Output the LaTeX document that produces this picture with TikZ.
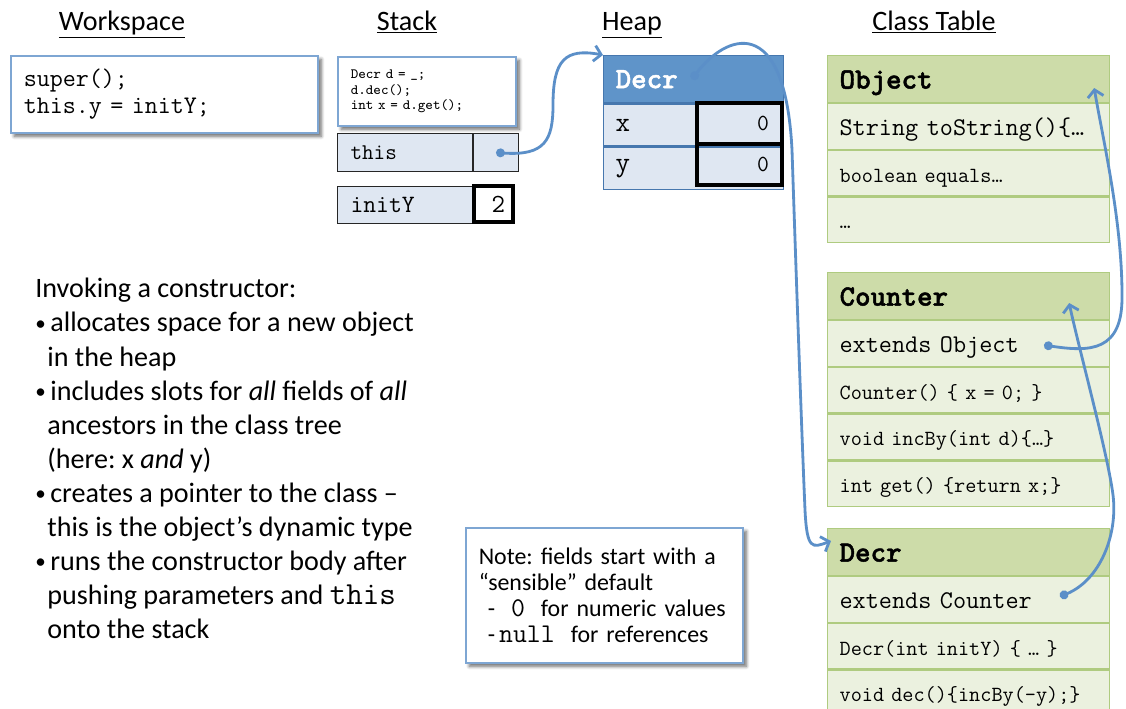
\documentclass[tikz,border=0pt]{standalone}
\usepackage{fontspec}
\setmainfont{Carlito}
\newfontfamily\hdrtt[FakeBold=1.6]{lmmonolt10-bold.otf}
\usepackage{tikz}
\usetikzlibrary{positioning,calc,arrows.meta,shadows.blur}

\definecolor{ptrblue}{HTML}{5B8FC8}
\definecolor{boxblue}{HTML}{7EA6D3}
\definecolor{cellblue}{HTML}{DFE7F2}
\definecolor{heapblue}{HTML}{5F94C9}
\definecolor{heapline}{HTML}{4677AE}
\definecolor{clshead}{HTML}{CDDCA9}
\definecolor{clsfill}{HTML}{EBF1DF}
\definecolor{clsline}{HTML}{AFCB80}

\newcommand{\bul}{\makebox[0.3cm][l]{\raisebox{1pt}{\fontsize{12}{12}\selectfont •}}}

\begin{document}
\frenchspacing
\begin{tikzpicture}[x=0.02cm, y=-0.02cm,
  title/.style={anchor=base, font=\fontsize{16}{19}\selectfont},
  codebox/.style={draw=boxblue, line width=0.9pt, fill=white, anchor=north west,
                  align=left, inner xsep=0.26cm,
                  blur shadow={shadow xshift=0.07cm, shadow yshift=-0.07cm,
                               shadow blur steps=6, shadow opacity=60}},
  slotname/.style={draw=black!85, fill=cellblue, line width=0.6pt, anchor=north west,
                   minimum width=2.7cm, text width=2.18cm, inner xsep=0.26cm, align=left},
  slotval/.style={draw=black!85, fill=cellblue, line width=0.6pt, minimum width=0.9cm},
  valbox/.style={draw=black, line width=2.2pt, inner xsep=0.16cm, align=right,
                 font=\ttfamily\fontsize{14.9}{17}\selectfont},
  heaphdr/.style={draw=heapline, fill=heapblue, line width=0.8pt, anchor=north west,
                  minimum width=3.6cm, minimum height=0.94cm, text width=3.12cm,
                  inner xsep=0.24cm, align=left, text=white,
                  font=\hdrtt\fontsize{16.8}{19}\selectfont},
  heaprow/.style={draw=heapline, fill=cellblue, line width=0.8pt,
                  minimum width=3.6cm, minimum height=0.84cm, text width=3.12cm,
                  inner xsep=0.24cm, align=left, font=\ttfamily\fontsize{16}{18}\selectfont},
  clshdr/.style={draw=clsline, fill=clshead, line width=0.7pt, anchor=north west,
                 minimum width=5.64cm, minimum height=0.94cm, text width=5.16cm,
                 inner xsep=0.24cm, align=left, text height=10.8pt, text depth=0pt,
                 font=\hdrtt\fontsize{16.8}{19}\selectfont},
  clsbig/.style={draw=clsline, fill=clsfill, line width=0.7pt,
                 minimum width=5.64cm, minimum height=0.91cm, text width=5.16cm,
                 inner xsep=0.24cm, align=left, text height=10pt, text depth=0pt,
                 font=\ttfamily\fontsize{14.5}{17}\selectfont},
  clssmall/.style={clsbig, font=\ttfamily\fontsize{12.3}{14}\selectfont},
  ptr/.style={draw=ptrblue, line width=1.6pt, line cap=round,
              arrows={Circle[length=5pt]-Straight Barb[length=4pt, width=9pt]}}
]
\useasboundingbox (0,0) rectangle (1126,708);

% ===== Titles =====
\node[title] (wstitle) at (122,30) {\underline{Workspace}};
\node[title] (sttitle) at (407,30) {\underline{Stack}};
\node[title] (hptitle) at (632,30) {\underline{Heap}};
\node[title] (cttitle) at (934,30) {\underline{Class Table}};

% ===== Workspace =====
\node[codebox, minimum width=6.14cm, minimum height=1.54cm, text width=5.62cm,
      font=\ttfamily\fontsize{14.4}{15.3}\selectfont] (ws) at (10,55)
  {super();\\this.y = initY;};

% ===== Stack =====
\node[codebox, minimum width=3.56cm, minimum height=1.38cm, text width=3.04cm,
      font=\ttfamily\fontsize{8.1}{8.8}\selectfont] (stcode) at (337,56)
  {Decr d = \_;\\d.dec();\\int x = d.get();};
\node[slotname, minimum height=0.76cm, font=\ttfamily\fontsize{12.8}{14}\selectfont]
  (thisn) at (337,133) {this};
\node[slotval, minimum height=0.76cm, right=0pt of thisn] (thisv) {};
\node[slotname, minimum height=0.74cm, font=\ttfamily\fontsize{14.2}{16}\selectfont]
  (inityn) at (337,186) {initY};
\node[valbox, minimum width=0.78cm, minimum height=0.72cm, text width=0.46cm]
  (inityv) at (493.5,204) {2};

% ===== Heap =====
\node[heaphdr] (hhdr) at (603,55) {Decr};
\node[heaprow, below=0pt of hhdr] (hx) {x};
\node[heaprow, below=0pt of hx] (hy) {y};
\node[valbox, minimum width=1.7cm, minimum height=0.82cm, text width=1.18cm,
      inner xsep=0.26cm, font=\ttfamily\fontsize{13.1}{15}\selectfont]
  (hxv) at (739.5,123.5) {0};
\node[valbox, minimum width=1.7cm, minimum height=0.82cm, text width=1.18cm,
      inner xsep=0.26cm, font=\ttfamily\fontsize{13.1}{15}\selectfont]
  (hyv) at (739.5,164.5) {0};
\coordinate (hdot) at ($(hhdr.west)+(89,0)$);

% ===== Class Table =====
\node[clshdr] (objh) at (827,55) {Object};
\node[clsbig, below=0pt of objh] (obj1) {String toString()\{…};
\node[clssmall, below=0pt of obj1] (obj2) {boolean equals…};
\node[clssmall, below=0pt of obj2] (obj3) {…};

\node[clshdr] (cnth) at (827,272) {Counter};
\node[clsbig, below=0pt of cnth] (cnt1) {extends Object};
\node[clssmall, below=0pt of cnt1] (cnt2) {Counter() \{ x = 0; \}};
\node[clssmall, below=0pt of cnt2] (cnt3) {void incBy(int d)\{…\}};
\node[clssmall, below=0pt of cnt3] (cnt4) {int get() \{return x;\}};
\coordinate (cntdot) at ($(cnt1.west)+(217,1.5)$);

\node[clshdr] (dech) at (827,528) {Decr};
\node[clsbig, below=0pt of dech] (dec1) {extends Counter};
\node[clssmall, below=0pt of dec1] (dec2) {Decr(int initY) \{ … \}};
\node[clssmall, below=0pt of dec2] (dec3) {void dec()\{incBy(-y);\}};
\coordinate (decdot) at ($(dec1.west)+(233,-3)$);

% ===== Pointers =====
\draw[ptr] (thisv.center) .. controls (545,156) and (553,140) .. (553,105)
  .. controls (553,60) and (565,48) .. (hhdr.north west);
\draw[ptr] (hdot) .. controls (725,35) and (785,10) .. (792,150)
  .. controls (797,300) and (802,440) .. (805,510)
  .. controls (807,550) and (812,548) .. ($(dech.north west)+(4,13)$);
\draw[ptr] (cntdot) .. controls (1090,352) and (1123,352) .. (1122,295)
  .. controls (1122,220) and (1103,140) .. ($(objh.north east)+(-16,33)$);
\draw[ptr] (decdot) .. controls (1100,580) and (1118,535) .. (1113,495)
  .. controls (1108,455) and (1078,345) .. ($(cnth.north east)+(-41,31)$);

% ===== Explanation =====
\node[anchor=north west, inner sep=0pt, align=left,
      font=\fontsize{16}{19.4}\selectfont] (invoke) at (35,278)
  {Invoking a constructor:\\
   \bul allocates space for a new object\\
   \hspace*{0.24cm}in the heap\\
   \bul includes slots for \textit{all} fields of \textit{all}\\
   \hspace*{0.24cm}ancestors in the class tree\\
   \hspace*{0.24cm}(here: x \textit{and} y)\\
   \bul creates a pointer to the class –\\
   \hspace*{0.24cm}this is the object’s dynamic type\\
   \bul runs the constructor body after\\
   \hspace*{0.24cm}pushing parameters and {\ttfamily\fontsize{18.3}{19.4}\selectfont this}\\
   \hspace*{0.24cm}onto the stack};

% ===== Note =====
\node[codebox, minimum width=5.54cm, minimum height=2.7cm, text width=5.02cm,
      font=\fontsize{13.6}{14.7}\selectfont] (note) at (465,527)
  {Note: fields start with a\\
   “sensible” default\\
   \hspace*{0.18cm}-\ \ {\ttfamily\fontsize{15.4}{14.7}\selectfont 0}\ \ for numeric values\\
   \hspace*{0.18cm}-\,{\ttfamily\fontsize{15.4}{14.7}\selectfont null}\ \ for references};

\end{tikzpicture}
\end{document}
